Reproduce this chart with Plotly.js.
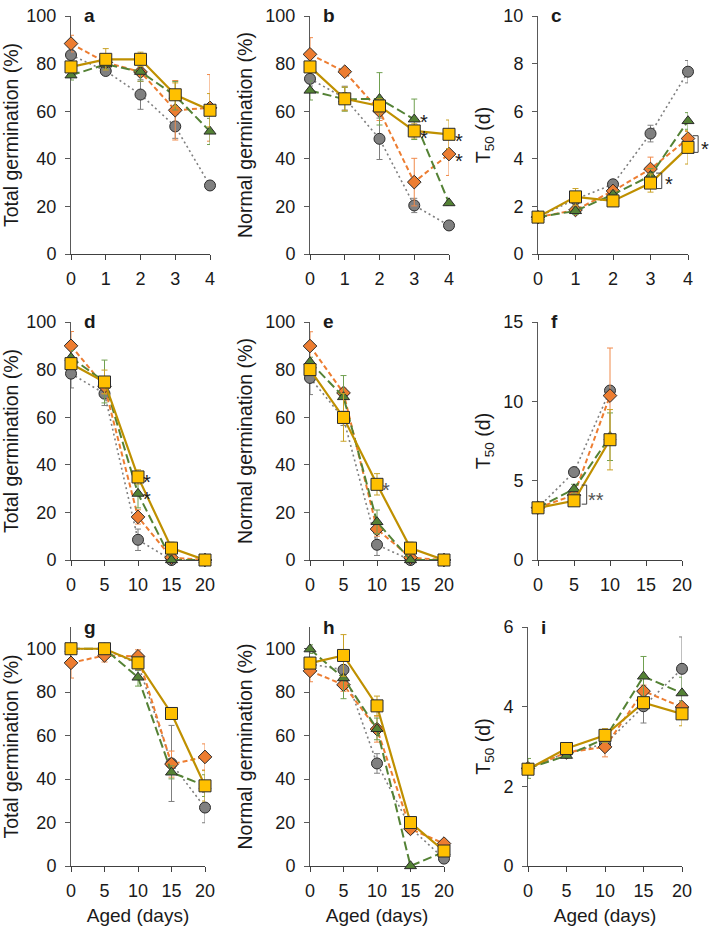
<!DOCTYPE html>
<html><head><meta charset="utf-8">
<script src="https://cdn.plot.ly/plotly-3.0.1.min.js"></script>
<style>html,body{margin:0;padding:0;background:#fff}#chart{width:709px;height:926px}</style>
</head><body><div id="chart"></div>
<script>
// ---- Data ----
const days4 = [0, 1, 2, 3, 4];
const days20 = [0, 5, 10, 15, 20];
const days10 = [0, 5, 10];

// Panel a - Total germination (%)
const aGray = [83.6, 76.9, 67.0, 53.6, 28.8],  aGrayErr = [2, 1.5, 6.2, 5, 1];
const aOrange = [88.4, 80.5, 76.5, 60.4, 61.4], aOrangeErr = [3.5, 2, 4, 12.5, 14];
const aGreen = [75.1, 79.7, 76.6, 66.5, 51.5], aGreenErr = [2, 2, 4, 6, 5.5];
const aYellow = [78.6, 81.8, 81.8, 66.9, 60.4], aYellowErr = [2, 4.5, 3, 5, 7];
// Panel b - Normal germination (%)
const bGray = [73.6, 65.5, 48.4, 20.4, 12.0], bGrayErr = [3, 5, 8.7, 3, 1];
const bOrange = [83.9, 76.6, 60.1, 30.2, 42.0], bOrangeErr = [7, 1, 4, 10, 9];
const bGreen = [68.7, 65.0, 65.2, 56.6, 21.4], bGreenErr = [4, 5, 11, 8.5, 1];
const bYellow = [78.6, 65.2, 62.2, 51.7, 50.3], bYellowErr = [2, 5, 3, 3, 6];
// Panel c - T50 (d)
const cGray = [1.55, 2.3, 2.93, 5.06, 7.66], cGrayErr = [0.05, 0.2, 0.2, 0.35, 0.47];
const cOrange = [1.55, 1.85, 2.65, 3.57, 4.85], cOrangeErr = [0.05, 0.15, 0.2, 0.5, 0.3];
const cGreen = [1.55, 1.81, 2.5, 3.29, 5.59], cGreenErr = [0.05, 0.15, 0.15, 0.3, 0.35];
const cYellow = [1.55, 2.4, 2.23, 2.98, 4.48], cYellowErr = [0.05, 0.35, 0.1, 0.38, 0.7];
// Panel d - Total germination (%)
const dGray = [78.3, 69.9, 8.5, 0, 0], dGrayErr = [6, 5, 4.5, 0, 0];
const dOrange = [90.0, 73.0, 18.1, 1, 0], dOrangeErr = [6, 3, 3, 0, 0];
const dGreen = [85.0, 75.0, 27.9, 0, 0], dGreenErr = [3, 9, 6, 0, 0];
const dYellow = [82.5, 74.8, 34.9, 5, 0], dYellowErr = [2, 5, 3, 2.5, 0];
// Panel e - Normal germination (%)
const eGray = [76.5, 59.5, 6.4, 0, 0], eGrayErr = [7, 3, 4.5, 0, 0];
const eOrange = [89.9, 70.2, 13, 1, 0], eOrangeErr = [6, 2, 3, 0, 0];
const eGreen = [83.2, 68.5, 16, 0, 0], eGreenErr = [2, 9, 5, 0, 0];
const eYellow = [80.0, 59.9, 31.8, 5, 0], eYellowErr = [2, 10, 4.5, 2.5, 0];
// Panel f - T50 (d)
const fGray = [3.3, 5.54, 10.68], fGrayErr = [0.1, 0.1, 0.2];
const fOrange = [3.3, 4.09, 10.36], fOrangeErr = [0.1, 0.3, 3.0];
const fGreen = [3.3, 4.47, 7.77], fGreenErr = [0.1, 0.3, 1.5];
const fYellow = [3.29, 3.73, 7.58], fYellowErr = [0.1, 0.2, 1.9];
// Panel g - Total germination (%)
const gGray = [100, 100, 93, 47.2, 26.9], gGrayErr = [0, 0, 3, 17.5, 7];
const gOrange = [93.5, 96.9, 96.5, 46.9, 50.2], gOrangeErr = [7, 3, 3, 6, 6];
const gGreen = [100, 100, 86.8, 43.1, 37], gGreenErr = [0, 0, 4, 3, 5];
const gYellow = [100, 100, 93.5, 70.2, 36.9], gYellowErr = [0, 0, 3, 0, 7];
// Panel h - Normal germination (%)
const hGray = [93, 90.3, 47.2, 17.5, 3.4], hGrayErr = [3, 2, 4.5, 2, 1];
const hOrange = [89.8, 83.4, 63, 17.1, 10.3], hOrangeErr = [5, 3, 6, 2, 1];
const hGreen = [99.8, 86.5, 63.1, 0, 6.5], hGreenErr = [2, 9.5, 5, 0, 1];
const hYellow = [93.4, 96.9, 73.7, 20, 6.9], hYellowErr = [2, 9.6, 4.5, 2, 1];
// Panel i - T50 (d)
const iGray = [2.45, 2.85, 3.06, 4.01, 4.95], iGrayErr = [0.1, 0.05, 0.1, 0.42, 0.8];
const iOrange = [2.45, 2.85, 2.99, 4.39, 3.99], iOrangeErr = [0.1, 0.05, 0.25, 0.15, 0.1];
const iGreen = [2.45, 2.77, 3.2, 4.76, 4.34], iGreenErr = [0.25, 0.05, 0.1, 0.5, 0.4];
const iYellow = [2.43, 2.95, 3.28, 4.1, 3.82], iYellowErr = [0.1, 0.05, 0.17, 0.1, 0.3];

const panelLabels = ['a','b','c','d','e','f','g','h','i'];
const yTitles = ['Total germination (%)','Normal germination (%)','T<sub>50</sub> (d)'];
const xTitle = 'Aged (days)';

// ---- Styles ----
const styles = {
  gray:   {line:{color:'#7F7F7F', dash:'2px,3px', width:1.6}, marker:{symbol:'circle', size:11, color:'#808080', line:{color:'#2b2b2b', width:1}}, err:'#7F7F7F'},
  orange: {line:{color:'#ED7D31', dash:'5px,3px', width:2}, marker:{symbol:'diamond', size:10.5, color:'#ED7D31', line:{color:'#2b2b2b', width:1}}, err:'#F08A4B'},
  green:  {line:{color:'#548235', dash:'9px,4px', width:2}, marker:{symbol:'triangle-up', size:10.5, color:'#548235', line:{color:'#2b2b2b', width:1}}, err:'#70A050'},
  yellow: {line:{color:'#BF9000', width:2.2}, marker:{symbol:'square', size:12, color:'#FFC000', line:{color:'#2b2b2b', width:1}}, err:'#C9A227'}
};

const panels = [
  {x:days4, s:{gray:[aGray,aGrayErr], orange:[aOrange,aOrangeErr], green:[aGreen,aGreenErr], yellow:[aYellow,aYellowErr]}},
  {x:days4, s:{gray:[bGray,bGrayErr], orange:[bOrange,bOrangeErr], green:[bGreen,bGreenErr], yellow:[bYellow,bYellowErr]}},
  {x:days4, s:{gray:[cGray,cGrayErr], orange:[cOrange,cOrangeErr], green:[cGreen,cGreenErr], yellow:[cYellow,cYellowErr]}},
  {x:days20, s:{gray:[dGray,dGrayErr], orange:[dOrange,dOrangeErr], green:[dGreen,dGreenErr], yellow:[dYellow,dYellowErr]}},
  {x:days20, s:{gray:[eGray,eGrayErr], orange:[eOrange,eOrangeErr], green:[eGreen,eGreenErr], yellow:[eYellow,eYellowErr]}},
  {x:days10, s:{gray:[fGray,fGrayErr], orange:[fOrange,fOrangeErr], green:[fGreen,fGreenErr], yellow:[fYellow,fYellowErr]}},
  {x:days20, s:{gray:[gGray,gGrayErr], orange:[gOrange,gOrangeErr], green:[gGreen,gGreenErr], yellow:[gYellow,gYellowErr]}},
  {x:days20, s:{gray:[hGray,hGrayErr], orange:[hOrange,hOrangeErr], green:[hGreen,hGreenErr], yellow:[hYellow,hYellowErr]}},
  {x:days20, s:{gray:[iGray,iGrayErr], orange:[iOrange,iOrangeErr], green:[iGreen,iGreenErr], yellow:[iYellow,iYellowErr]}}
];

// layout geometry (pixels in a 709x926 page)
const W = 709, H = 926;
const xPix = [[71,210],[310,449],[538,688],[71,205],[310,444],[538,682],[71,205],[310,444],[528,682]];
const yPix = [[16,254],[16,254],[16,254],[322,560],[322,560],[322,560],[627,866],[627,866],[627,866]];
const xRanges = [[0,4],[0,4],[0,4],[0,20],[0,20],[0,20],[0,20],[0,20],[0,20]];
const yRanges = [[0,100],[0,100],[0,10],[0,100],[0,100],[0,15],[0,110],[0,110],[0,6]];
const yDticks = [20,20,2,20,20,5,20,20,2];

const traces = [];
const layout = {
  width: W, height: H, margin:{l:0,r:0,t:0,b:0},
  paper_bgcolor:'#fff', plot_bgcolor:'rgba(0,0,0,0)', showlegend:false,
  font:{family:'Arial, Liberation Sans, sans-serif', color:'#1a1a1a'},
  annotations: [], shapes: []
};

panels.forEach((p, k) => {
  const n = k + 1;
  const xa = n === 1 ? 'x' : 'x' + n, ya = n === 1 ? 'y' : 'y' + n;
  ['gray','orange','green','yellow'].forEach(key => {
    const st = styles[key];
    const [vals, errs] = p.s[key];
    traces.push({
      type:'scatter', mode:'lines+markers', x:p.x, y:vals, xaxis:xa, yaxis:ya,
      line:st.line, marker:st.marker, cliponaxis:false,
      error_y:{type:'data', array:errs, visible:true, color:st.err, thickness:1, width:3}
    });
  });
  const axCommon = {showline:true, linecolor:'#595959', linewidth:1, ticks:'outside', ticklen:5, tickcolor:'#595959',
    showgrid:false, zeroline:false, tickfont:{size:18, color:'#1a1a1a'}, layer:'below traces', fixedrange:true};
  const xax = Object.assign({}, axCommon, {
    domain:[xPix[k][0]/W, xPix[k][1]/W], range:xRanges[k], dtick:xRanges[k][1] === 4 ? 1 : 5, tick0:0,
    anchor: ya, linecolor:'#404040', tickcolor:'#404040', ticklabelstandoff:3
  });
  if (k >= 6) xax.title = {text:xTitle, font:{size:19, color:'#1a1a1a'}, standoff:9};
  layout[n === 1 ? 'xaxis' : 'xaxis' + n] = xax;
  layout[n === 1 ? 'yaxis' : 'yaxis' + n] = Object.assign({}, axCommon, {
    domain:[1 - yPix[k][1]/H, 1 - yPix[k][0]/H], range:yRanges[k], dtick:yDticks[k], tick0:0,
    anchor: xa, ticklabelstandoff:5,
    title:{text:yTitles[k % 3], font:{size:19.5, color:'#1a1a1a'}, standoff:7}
  });
  layout.annotations.push({text:'<b>' + panelLabels[k] + '</b>', xref:xa + ' domain', yref:ya + ' domain',
    x:0, y:1, xanchor:'left', yanchor:'middle', xshift:11, showarrow:false, font:{size:19, color:'#1a1a1a'}});
});

// significance marks (placed in axis-domain units converted from data values so they may sit past the axis end)
function toDomain(n, x, y) {
  const k = n - 1;
  return [(x - xRanges[k][0]) / (xRanges[k][1] - xRanges[k][0]), (y - yRanges[k][0]) / (yRanges[k][1] - yRanges[k][0])];
}
function refs(n) { return n === 1 ? ['x domain','y domain'] : ['x' + n + ' domain', 'y' + n + ' domain']; }
function star(n, x, y, text, color) {
  const [dx, dy] = toDomain(n, x, y), [xr, yr] = refs(n);
  layout.annotations.push({text:text, x:dx, y:dy, xref:xr, yref:yr, xanchor:'center', yanchor:'middle',
    showarrow:false, yshift:-6, font:{size:20, color:color || '#1a1a1a'}});
}
function bracket(n, x0, x1, y0, y1) {
  const [X0, Y0] = toDomain(n, x0, y0), [X1, Y1] = toDomain(n, x1, y1), [xr, yr] = refs(n);
  layout.shapes.push({type:'path', xref:xr, yref:yr,
    path:`M${X0},${Y0} L${X1},${Y0} L${X1},${Y1} L${X0},${Y1}`, line:{color:'#404040', width:1}});
}
star(2, 3.27, 58, '*'); star(2, 3.29, 51.3, '*'); star(2, 4.29, 49.8, '*'); star(2, 4.29, 41.5, '*');
bracket(3, 3.15, 3.3, 3.4, 2.75); star(3, 3.48, 3.18, '*');
bracket(3, 4.13, 4.27, 4.97, 4.27); star(3, 4.44, 4.65, '*');
star(4, 11.4, 35.3, '*'); star(4, 11.4, 28.2, '*');
star(5, 11.4, 31.8, '*', '#555');
bracket(6, 6.07, 6.76, 4.72, 3.52); star(6, 8.0, 4.15, '**', '#555');

Plotly.newPlot('chart', traces, layout, {staticPlot:true});
</script></body></html>
